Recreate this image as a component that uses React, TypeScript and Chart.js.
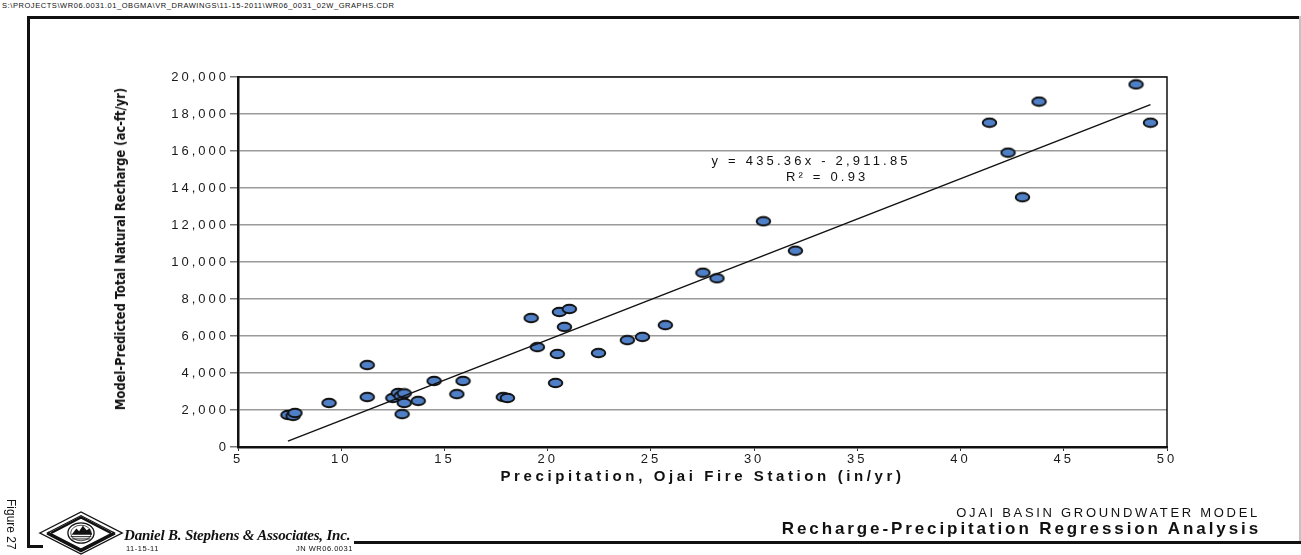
import React, { useEffect, useRef } from "react";
import { Chart, registerables } from "chart.js";

Chart.register(...registerables);

// ---- data ----
const PRECIP = [
  7.42, 7.67, 7.76, 9.41, 11.26, 11.26, 12.5, 12.76, 12.9, 13.05, 13.05, 12.95, 13.73,
  14.5, 15.6, 15.9, 17.85, 18.05, 19.2, 19.5, 20.38, 20.47, 20.57, 20.81, 21.05, 22.46,
  23.86, 24.59, 25.7, 27.52, 28.2, 30.45, 32.0, 41.4, 42.3, 43.0, 43.8, 48.5, 49.2,
];
const RECHARGE = [
  1730, 1680, 1840, 2380, 4430, 2700, 2650, 2920, 2760, 2900, 2380, 1780, 2490,
  3570, 2860, 3570, 2700, 2650, 6970, 5400, 3460, 5030, 7300, 6490, 7460, 5080,
  5780, 5950, 6590, 9420, 9120, 12200, 10610, 17530, 15910, 13500, 18670, 19600, 17530,
];
const TREND_SLOPE = 435.36;
const TREND_INTERCEPT = -2911.85;
const EQUATION_LINES = ["y = 435.36x - 2,911.85", "R² = 0.93"];
const X_MIN = 5;
const X_MAX = 50;
const X_STEP = 5;
const Y_MIN = 0;
const Y_MAX = 20000;
const Y_STEP = 2000;
const X_TITLE = "Precipitation, Ojai Fire Station (in/yr)";
const Y_TITLE = "Model-Predicted Total Natural Recharge (ac-ft/yr)";
const FILE_PATH = "S:\\PROJECTS\\WR06.0031.01_OBGMA\\VR_DRAWINGS\\11-15-2011\\WR06_0031_02W_GRAPHS.CDR";
const SUBTITLE = "OJAI BASIN GROUNDWATER MODEL";
const MAIN_TITLE = "Recharge-Precipitation Regression Analysis";
const COMPANY = "Daniel B. Stephens & Associates, Inc.";
const DATE_TEXT = "11-15-11";
const JOB_TEXT = "JN WR06.0031";
const FIGURE_TEXT = "Figure 27";

const SANS = '"Liberation Sans", Arial, Helvetica, sans-serif';

function makeMarker(): HTMLCanvasElement {
  const c = document.createElement("canvas");
  c.width = 17;
  c.height = 12;
  const g = c.getContext("2d")!;
  g.beginPath();
  g.ellipse(8.5, 6, 6.8, 4.3, 0, 0, Math.PI * 2);
  g.fillStyle = "#4f7fc6";
  g.fill();
  g.lineWidth = 1.9;
  g.strokeStyle = "#111";
  g.stroke();
  return c;
}

const decorPlugin = {
  id: "decor",
  beforeDraw(chart: any) {
    chart.ctx.letterSpacing = "3px";
  },
  afterDraw(chart: any) {
    const { ctx, chartArea: a } = chart;
    ctx.save();
    ctx.letterSpacing = "0px";
    ctx.strokeStyle = "#111";
    ctx.lineWidth = 1.5;
    ctx.beginPath();
    ctx.moveTo(a.left, a.top);
    ctx.lineTo(a.right, a.top);
    ctx.lineTo(a.right, a.bottom);
    ctx.stroke();
    // regression equation
    ctx.font = "13px " + SANS;
    ctx.letterSpacing = "3.2px";
    ctx.fillStyle = "#111";
    ctx.textAlign = "center";
    ctx.textBaseline = "middle";
    const cx = a.left + a.width * 0.617;
    const cy = a.top + a.height * 0.228;
    ctx.fillText(EQUATION_LINES[0], cx, cy);
    ctx.fillText(EQUATION_LINES[1], cx + 16, cy + 16);
    // x-axis title
    ctx.font = "bold 15px " + SANS;
    ctx.letterSpacing = "3.6px";
    ctx.fillText(X_TITLE, (a.left + a.right) / 2, a.bottom + 30);
    ctx.restore();
  },
};

function ScatterChart() {
  const ref = useRef<HTMLCanvasElement | null>(null);
  useEffect(() => {
    if (!ref.current) return;
    const points = PRECIP.map((x, i) => ({ x, y: RECHARGE[i] }));
    const xLo = Math.min(...PRECIP);
    const xHi = Math.max(...PRECIP);
    const trend = [xLo, xHi].map((x) => ({ x, y: TREND_SLOPE * x + TREND_INTERCEPT }));
    const marker = makeMarker();
    const chart = new Chart(ref.current, {
      type: "scatter",
      data: {
        datasets: [
          {
            type: "scatter",
            data: points,
            pointStyle: marker as any,
            pointRadius: 6,
            order: 2,
          },
          {
            type: "line",
            data: trend,
            borderColor: "#111",
            borderWidth: 1.5,
            pointRadius: 0,
            fill: false,
            order: 1,
          },
        ],
      },
      options: {
        animation: false,
        responsive: false,
        devicePixelRatio: 1,
        layout: { padding: { left: 0, top: 77, right: 134, bottom: 0 } },
        plugins: { legend: { display: false }, tooltip: { enabled: false } },
        scales: {
          x: {
            type: "linear",
            min: X_MIN,
            max: X_MAX,
            afterFit: (s: any) => {
              s.height = 108;
            },
            ticks: {
              stepSize: X_STEP,
              color: "#1a1a1a",
              font: { family: SANS, size: 13 },
              padding: 1,
              maxRotation: 0,
            },
            grid: {
              drawOnChartArea: false,
              tickLength: 4,
              tickColor: "#333",
              tickWidth: 1,
            },
            border: { color: "#111", width: 2.5 },
          },
          y: {
            type: "linear",
            min: Y_MIN,
            max: Y_MAX,
            afterFit: (s: any) => {
              s.width = 238;
            },
            ticks: {
              stepSize: Y_STEP,
              color: "#1a1a1a",
              font: { family: SANS, size: 13 },
              padding: 1,
              callback: (v: any) => Number(v).toLocaleString("en-US"),
            },
            grid: {
              color: "#9a9a9a",
              lineWidth: 1.6,
              tickLength: 8,
              tickColor: "#555",
              tickWidth: 1.2,
            },
            border: { color: "#111", width: 2.5 },
          },
        },
      },
      plugins: [decorPlugin],
    });
    return () => chart.destroy();
  }, []);
  return (
    <canvas
      ref={ref}
      width={1301}
      height={555}
      style={{ position: "absolute", left: 0, top: 0, width: 1301, height: 555 }}
    />
  );
}

function Logo() {
  return (
    <svg
      width={86}
      height={44}
      viewBox="0 0 92 48"
      preserveAspectRatio="none"
      style={{ position: "absolute", left: 38, top: 511 }}
    >
      <polygon points="2,24 46,1 90,24 46,47" fill="#fff" stroke="#111" strokeWidth={1.5} />
      <polygon points="10,24 46,5 82,24 46,43" fill="none" stroke="#111" strokeWidth={1.2} />
      <polyline points="10,24 46,43 82,24" fill="none" stroke="#111" strokeWidth={4} />
      <polyline points="14,24 46,7 78,24" fill="none" stroke="#111" strokeWidth={2.5} />
      <ellipse cx={46} cy={24} rx={14} ry={11} fill="#fff" stroke="#111" strokeWidth={1.4} />
      <ellipse cx={46} cy={24} rx={11} ry={8.5} fill="none" stroke="#111" strokeWidth={0.8} />
      <polygon points="36,26 41,19 44,22 48,16 52,21 55,19 58,26" fill="#111" />
      <line x1={35} y1={28} x2={57} y2={28} stroke="#111" strokeWidth={1} />
      <line x1={36} y1={30.5} x2={56} y2={30.5} stroke="#111" strokeWidth={1} />
    </svg>
  );
}

export default function App() {
  useEffect(() => {
    document.body.style.margin = "0";
    document.body.style.background = "#fff";
  }, []);
  const abs = (s: React.CSSProperties): React.CSSProperties => ({ position: "absolute", ...s });
  return (
    <div
      style={{
        position: "relative",
        width: 1301,
        height: 555,
        overflow: "hidden",
        background: "#fff",
        fontFamily: SANS,
        color: "#111",
      }}
    >
      {/* header path */}
      <div style={abs({ left: 2, top: 1, fontSize: 7.5, letterSpacing: 0.57, whiteSpace: "nowrap", lineHeight: "9px" })}>
        {FILE_PATH}
      </div>
      {/* frame */}
      <div style={abs({ left: 27, top: 16, width: 1274, height: 3, background: "#111" })} />
      <div style={abs({ left: 27, top: 16, width: 3, height: 532, background: "#111" })} />
      <div style={abs({ left: 1299, top: 16, width: 1.5, height: 528, background: "#c4c4c4" })} />
      <div style={abs({ left: 27, top: 545, width: 16, height: 3, background: "#111" })} />
      <div style={abs({ left: 354, top: 541, width: 947, height: 3, background: "#111" })} />

      <ScatterChart />

      {/* y-axis title */}
      <div
        style={abs({
          left: 120,
          top: 249,
          transform: "translate(-50%, -50%) rotate(-90deg) scaleX(0.885)",
          whiteSpace: "nowrap",
          fontFamily: '"Liberation Sans Narrow", "DejaVu Sans Condensed", "Arial Narrow", sans-serif',
          fontWeight: "bold",
          fontSize: 14.5,
        })}
      >
        {Y_TITLE}
      </div>

      {/* bottom right titles */}
      <div
        style={abs({
          right: 41,
          top: 505,
          fontSize: 13,
          letterSpacing: 2.7,
          whiteSpace: "nowrap",
          lineHeight: "16px",
        })}
      >
        {SUBTITLE}
      </div>
      <div
        style={abs({
          right: 40,
          top: 519,
          fontSize: 17,
          fontWeight: "bold",
          letterSpacing: 2.9,
          whiteSpace: "nowrap",
          lineHeight: "20px",
        })}
      >
        {MAIN_TITLE}
      </div>

      {/* company block */}
      <Logo />
      <div
        style={abs({
          left: 124,
          top: 527,
          fontFamily: '"Liberation Serif", "Times New Roman", serif',
          fontWeight: "bold",
          fontStyle: "italic",
          fontSize: 15,
          whiteSpace: "nowrap",
          lineHeight: "16px",
          letterSpacing: -0.2,
        })}
      >
        {COMPANY}
      </div>
      <div style={abs({ left: 126, top: 544, fontSize: 7.5, letterSpacing: 0.5, whiteSpace: "nowrap" })}>
        {DATE_TEXT}
      </div>
      <div style={abs({ left: 296, top: 544, fontSize: 7.5, letterSpacing: 0.5, whiteSpace: "nowrap" })}>
        {JOB_TEXT}
      </div>
      <div
        style={abs({
          left: 4,
          top: 499,
          writingMode: "vertical-rl",
          fontSize: 12,
          whiteSpace: "nowrap",
        })}
      >
        {FIGURE_TEXT}
      </div>
    </div>
  );
}
